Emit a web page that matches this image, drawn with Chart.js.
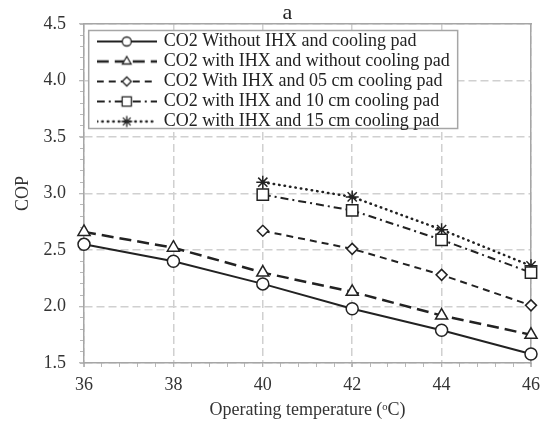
<!DOCTYPE html>
<html>
<head>
<meta charset="utf-8">
<script src="https://cdn.jsdelivr.net/npm/chart.js@4.4.1/dist/chart.umd.min.js"></script>
<style>
  html, body { margin: 0; padding: 0; background: #fff; }
</style>
</head>
<body>
<canvas id="myChart" width="547" height="430"></canvas>
<script>
// 운전 온도 (x축)
const temps = [36, 38, 40, 42, 44, 46];
const xTicks = [36, 38, 40, 42, 44, 46];
const yTicks = [1.5, 2.0, 2.5, 3.0, 3.5, 4.0, 4.5];

// 범례 이름
const seriesNames = [
    'CO2 Without IHX and cooling pad',
    'CO2 with IHX and without cooling pad',
    'CO2 With IHX and 05 cm cooling pad',
    'CO2 with IHX and 10 cm cooling pad',
    'CO2 with IHX and 15 cm cooling pad'
];

// COP 값
const copNoIhx = [2.55, 2.40, 2.20, 1.98, 1.79, 1.58];
const copIhx = [2.66, 2.52, 2.30, 2.13, 1.92, 1.75];
const copPad05 = [null, null, 2.67, 2.51, 2.28, 2.01];
const copPad10 = [null, null, 2.99, 2.85, 2.59, 2.30];
const copPad15 = [null, null, 3.10, 2.97, 2.68, 2.36];
const allSeries = [copNoIhx, copIhx, copPad05, copPad10, copPad15];

// 선 스타일
const styles = [
    { dash: [], width: 2, point: 'circle', radius: 6, legendRadius: 4.5 },
    { dash: [12, 6], width: 2.5, point: 'triangle', radius: 7, legendRadius: 5 },
    { dash: [7, 5], width: 2, point: 'rectRot', radius: 5.5, legendRadius: 4.5 },
    { dash: [8, 4, 2, 4], width: 2, point: 'rect', radius: 8, legendRadius: 6.5 },
    { dash: [0.5, 5], width: 2.5, point: 'star', radius: 6.5, legendRadius: 5.5, cap: 'round' }
];

const INK = '#222';
const AXIS = '#a6a6a6';
const GRID = '#d0d0d0';
const FONT = "'Liberation Serif', 'DejaVu Serif', serif";

function toPoints(values) {
    return temps.map((t, i) => ({ x: t, y: values[i] })).filter(p => p.y !== null);
}

// 범례용 작은 그림 (선 + 마커)
function makeSample(st) {
    const c = document.createElement('canvas');
    c.width = 60;
    c.height = 18;
    const g = c.getContext('2d');
    g.strokeStyle = INK;
    g.lineWidth = st.width;
    g.lineCap = st.cap || 'butt';
    g.setLineDash(st.dash);
    g.beginPath();
    g.moveTo(0, 9);
    g.lineTo(60, 9);
    g.stroke();
    g.setLineDash([]);
    g.lineCap = 'butt';
    g.fillStyle = '#fff';
    g.lineWidth = 1.3;
    Chart.helpers.drawPoint(g, { pointStyle: st.point, radius: st.legendRadius, rotation: 0, borderWidth: 1.3 }, 30, 9);
    return c;
}
const samples = styles.map(makeSample);

// 범례를 그래프 안쪽 왼쪽 위에 두고 테두리를 그림
const legendBoxPlugin = {
    id: 'legendBox',
    afterLayout(chart) {
        const lg = chart.legend;
        const area = chart.chartArea;
        lg.left = area.left + 12.7;
        lg.top = area.top + 6.5;
        lg.right = area.right;
        lg.bottom = area.bottom;
        lg.width = lg.right - lg.left;
        lg.height = lg.bottom - lg.top;
    },
    beforeDatasetsDraw(chart) {
        const lg = chart.legend;
        const boxes = lg.legendHitBoxes;
        if (!boxes || !boxes.length) return;
        const left = lg.left - 8;
        const top = boxes[0].top - 2;
        const right = Math.max(...boxes.map(b => b.left + b.width)) + 8;
        const last = boxes[boxes.length - 1];
        const bottom = last.top + last.height - 2;
        const c = chart.ctx;
        c.save();
        c.fillStyle = '#fff';
        c.fillRect(left, top, right - left, bottom - top);
        c.strokeStyle = AXIS;
        c.lineWidth = 1.5;
        c.strokeRect(left, top, right - left, bottom - top);
        c.restore();
        lg.draw();
    }
};

const ctx = document.getElementById('myChart').getContext('2d');
const myChart = new Chart(ctx, {
    type: 'line',
    data: {
        datasets: allSeries.map((vals, i) => ({
            label: seriesNames[i],
            data: toPoints(vals),
            xAxisID: 'x',
            yAxisID: 'y',
            borderColor: INK,
            borderWidth: styles[i].width,
            borderDash: styles[i].dash,
            borderCapStyle: styles[i].cap || 'butt',
            pointStyle: styles[i].point,
            pointRadius: styles[i].radius,
            pointBorderWidth: 1.5,
            pointBorderColor: INK,
            pointBackgroundColor: '#fff',
            tension: 0,
            fill: false,
            clip: false
        }))
    },
    options: {
        responsive: false,
        animation: false,
        layout: { padding: { left: 0, right: -28, top: 0, bottom: 0 } },
        plugins: {
            title: {
                display: true,
                text: 'a',
                color: INK,
                font: { family: FONT, size: 22, weight: 'normal', lineHeight: 1.0 },
                padding: { top: 2, bottom: 0 }
            },
            legend: {
                position: 'chartArea',
                align: 'start',
                labels: {
                    usePointStyle: true,
                    pointStyleWidth: 56,
                    padding: 2,
                    color: INK,
                    font: { family: FONT, size: 18 },
                    generateLabels(chart) {
                        const items = Chart.defaults.plugins.legend.labels.generateLabels(chart);
                        items.forEach((it, i) => { it.pointStyle = samples[i]; });
                        return items;
                    }
                }
            },
            tooltip: { enabled: false }
        },
        scales: {
            x: {
                type: 'linear',
                axis: 'x',
                position: 'bottom',
                min: 36,
                max: 46,
                afterBuildTicks: s => { s.ticks = xTicks.map(v => ({ value: v })); },
                afterFit: s => { s.height = 67; },
                ticks: { color: '#333', font: { family: FONT, size: 18 }, padding: 7 },
                grid: { color: GRID, lineWidth: 1.5, tickLength: 4, tickColor: AXIS, tickWidth: 1 },
                border: { color: AXIS, width: 1.5, dash: [8, 4] },
                title: {
                    display: true,
                    text: 'Operating temperature (ᵒC)',
                    color: '#333',
                    font: { family: FONT, size: 18 },
                    padding: { top: 0, bottom: 9 }
                }
            },
            y: {
                type: 'linear',
                axis: 'y',
                position: 'left',
                min: 1.5,
                max: 4.5,
                afterBuildTicks: s => { s.ticks = yTicks.map(v => ({ value: v })); },
                afterFit: s => { s.width = 84; },
                ticks: { color: '#333', font: { family: FONT, size: 18 }, padding: 13, callback: v => v.toFixed(1) },
                grid: { color: GRID, lineWidth: 1.5, tickLength: 5, tickColor: AXIS, tickWidth: 1 },
                border: { color: AXIS, width: 1.5, dash: [8, 4] },
                title: {
                    display: true,
                    text: 'COP',
                    color: '#333',
                    font: { family: FONT, size: 18 },
                    padding: { top: 12, bottom: 0 }
                }
            },
            xMinor: {
                type: 'linear',
                axis: 'x',
                position: { y: 1.5 },
                min: 36,
                max: 46,
                ticks: { display: false, stepSize: 0.4, autoSkip: false },
                grid: { drawOnChartArea: false, tickLength: 4, tickColor: '#b8b8b8', tickWidth: 1 },
                border: { display: false }
            },
            yMinor: {
                type: 'linear',
                axis: 'y',
                position: { x: 36 },
                min: 1.5,
                max: 4.5,
                ticks: { display: false, stepSize: 0.1, autoSkip: false },
                grid: { drawOnChartArea: false, tickLength: 4, tickColor: '#b8b8b8', tickWidth: 1 },
                border: { display: false }
            },
            xTop: {
                type: 'linear',
                axis: 'x',
                position: 'top',
                min: 36,
                max: 46,
                ticks: { display: false },
                grid: { display: false, drawTicks: false },
                border: { color: AXIS, width: 1.5 }
            },
            yR: {
                type: 'linear',
                axis: 'y',
                position: 'right',
                min: 1.5,
                max: 4.5,
                afterFit: s => { s.width = 40; },
                ticks: { display: false },
                grid: { display: false, drawTicks: false },
                border: { color: AXIS, width: 1.5 }
            }
        }
    },
    plugins: [legendBoxPlugin]
});
</script>
</body>
</html>
